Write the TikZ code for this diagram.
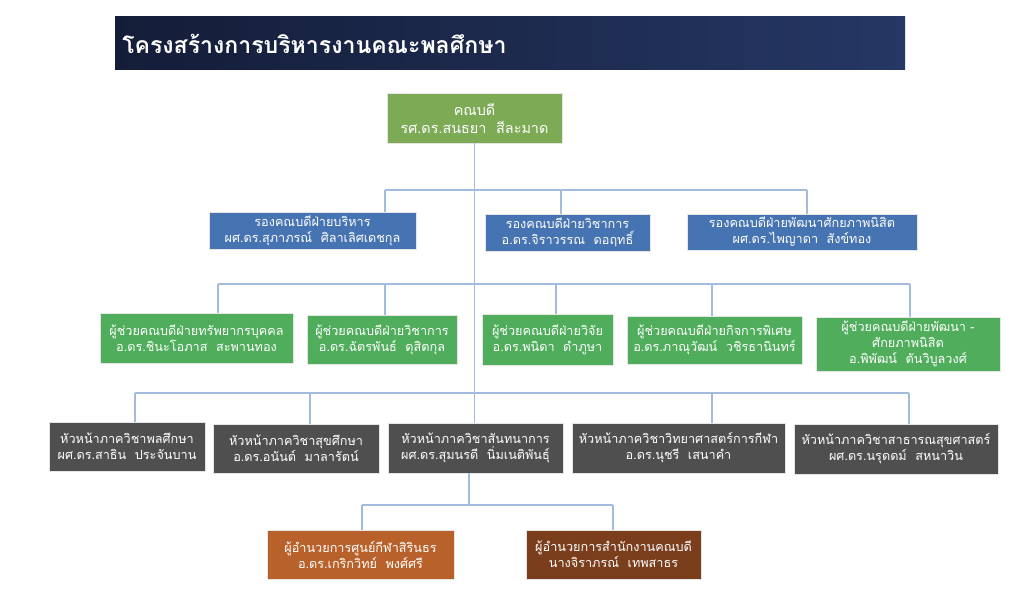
\documentclass[tikz,border=0pt]{standalone}
\usepackage{fontspec}
\newfontfamily\thaifont[Script=Thai]{Loma}

\definecolor{barleft}{HTML}{141D38}
\definecolor{barright}{HTML}{253764}
\definecolor{deangreen}{HTML}{7CAA55}
\definecolor{viceblue}{HTML}{4673B1}
\definecolor{asstgreen}{HTML}{4FAD5B}
\definecolor{headgray}{HTML}{4F4F4F}
\definecolor{dirorange}{HTML}{B8612B}
\definecolor{dirbrown}{HTML}{7A3E1C}
\definecolor{linkblue}{HTML}{A3BCDD}

\begin{document}
\begin{tikzpicture}[x=0.75pt,y=-0.75pt,
    box/.style={draw=white!80!gray, line width=.6pt, text=white, align=center, inner sep=1pt,
      font=\thaifont\fontsize{9.5}{12}\selectfont},
    wh/.style 2 args={minimum width=#1*0.75pt, minimum height=#2*0.75pt},
    link/.style={draw=linkblue, line width=.8pt}]
    \fill[white] (0,0) rectangle (1024,595);
    \useasboundingbox (0,0) rectangle (1024,595);

    % title bar
    \shade[left color=barleft, right color=barright] (115,17) rectangle (905,70);
    \node[anchor=west, text=white, inner sep=0pt, font=\thaifont\bfseries\fontsize{17.3}{20}\selectfont]
      (title) at (122,44) {โครงสร้างการบริหารงานคณะพลศึกษา};

    \node[box, fill=deangreen, wh={175}{50}, font=\thaifont\fontsize{10.8}{13.5}\selectfont] (dean) at (474.5,118) {คณบดี\\รศ.ดร.สนธยา~~สีละมาด};

    \node[box, fill=viceblue, wh={207}{37}] (v1) at (312.5,230.5) {รองคณบดีฝ่ายบริหาร\\ผศ.ดร.สุภาภรณ์~~ศิลาเลิศเดชกุล};
    \node[box, fill=viceblue, wh={165}{37}] (v2) at (567.5,232.5) {รองคณบดีฝ่ายวิชาการ\\อ.ดร.จิราวรรณ~~ดอฤทธิ์};
    \node[box, fill=viceblue, wh={230}{36}] (v3) at (802,232) {รองคณบดีฝ่ายพัฒนาศักยภาพนิสิต\\ผศ.ดร.ไพญาดา~~สังข์ทอง};

    \node[box, fill=asstgreen, wh={193}{50}] (a1) at (196.5,338) {ผู้ช่วยคณบดีฝ่ายทรัพยากรบุคคล\\อ.ดร.ชินะโอภาส~~สะพานทอง};
    \node[box, fill=asstgreen, wh={150}{49}] (a2) at (382,339.5) {ผู้ช่วยคณบดีฝ่ายวิชาการ\\อ.ดร.ฉัตรพันธ์~~ดุสิตกุล};
    \node[box, fill=asstgreen, wh={131}{51}] (a3) at (547.5,339.5) {ผู้ช่วยคณบดีฝ่ายวิจัย\\อ.ดร.พนิดา~~ดำภูษา};
    \node[box, fill=asstgreen, wh={175}{48}] (a4) at (714.5,340) {ผู้ช่วยคณบดีฝ่ายกิจการพิเศษ\\อ.ดร.ภาณุวัฒน์~~วชิรธานินทร์};
    \node[box, fill=asstgreen, wh={184}{54}] (a5) at (908,344) {ผู้ช่วยคณบดีฝ่ายพัฒนา -\\ศักยภาพนิสิต\\อ.พิพัฒน์~~ตันวิบูลวงศ์};

    \node[box, fill=headgray, wh={156}{49}] (h1) at (127,446.5) {หัวหน้าภาควิชาพลศึกษา\\ผศ.ดร.สาธิน~~ประจันบาน};
    \node[box, fill=headgray, wh={166}{49}] (h2) at (296,448.5) {หัวหน้าภาควิชาสุขศึกษา\\อ.ดร.อนันต์~~มาลารัตน์};
    \node[box, fill=headgray, wh={175}{50}] (h3) at (475.5,448) {หัวหน้าภาควิชาสันทนาการ\\ผศ.ดร.สุมนรดี~~นิ่มเนติพันธุ์};
    \node[box, fill=headgray, wh={213}{50}] (h4) at (678.5,448) {หัวหน้าภาควิชาวิทยาศาสตร์การกีฬา\\อ.ดร.นุชรี~~เสนาคำ};
    \node[box, fill=headgray, wh={204}{50}] (h5) at (896,449) {หัวหน้าภาควิชาสาธารณสุขศาสตร์\\ผศ.ดร.นรุดดม์~~สหนาวิน};

    \node[box, fill=dirorange, wh={187}{49}] (d1) at (360.5,554.5) {ผู้อำนวยการศูนย์กีฬาสิรินธร\\อ.ดร.เกริกวิทย์~~พงศ์ศรี};
    \node[box, fill=dirbrown, wh={175}{49}] (d2) at (613.5,554.5) {ผู้อำนวยการสำนักงานคณบดี\\นางจิราภรณ์~~เทพสาธร};

    % trunk and buses
    \draw[link] (dean.south) -- (dean.south |- h3.north);
    \coordinate (bus2w) at (385,190); \coordinate (bus2e) at (807,190);
    \coordinate (bus3w) at (218,284); \coordinate (bus3e) at (910,284);
    \coordinate (bus4w) at (135,393); \coordinate (bus4e) at (909,393);
    \coordinate (bus5w) at (362,505); \coordinate (bus5e) at (613,505);
    \coordinate (bus5) at (469,505);
    \draw[link] (bus2w) -- (bus2e);
    \draw[link] (bus3w) -- (bus3e);
    \draw[link] (bus4w) -- (bus4e);
    \draw[link] (bus5w) -- (bus5e);
    \draw[link] (h3.south -| bus5) -- (bus5);

    \foreach \x/\n in {385/v1,561/v2,807/v3} {
      \coordinate (k) at (\x,190);
      \draw[link] (k) -- (k |- \n.north);
    }
    \foreach \x/\n in {218/a1,385/a2,556/a3,712/a4,910/a5} {
      \coordinate (k) at (\x,284);
      \draw[link] (k) -- (k |- \n.north);
    }
    \foreach \x/\n in {135/h1,310/h2,712/h4,909/h5} {
      \coordinate (k) at (\x,393);
      \draw[link] (k) -- (k |- \n.north);
    }
    \foreach \x/\n in {362/d1,613/d2} {
      \coordinate (k) at (\x,505);
      \draw[link] (k) -- (k |- \n.north);
    }
\end{tikzpicture}
\end{document}
